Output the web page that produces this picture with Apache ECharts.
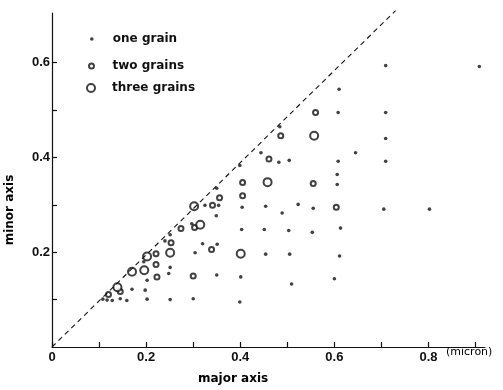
<!DOCTYPE html>
<html>
<head>
<meta charset="utf-8">
<script src="https://cdn.jsdelivr.net/npm/echarts@6/dist/echarts.min.js"></script>
<style>
  html, body { margin: 0; padding: 0; background: #fff; }
  #chart { width: 503px; height: 390px; }
</style>
</head>
<body>
<div id="chart"></div>
<script>
// [major axis, minor axis] in micron
const oneGrain = [
  [0.325, 0.299], [0.297, 0.260], [0.251, 0.237], [0.240, 0.224], [0.320, 0.218],
  [0.304, 0.199], [0.195, 0.180], [0.251, 0.168], [0.248, 0.155], [0.202, 0.141],
  [0.170, 0.122], [0.198, 0.120], [0.108, 0.101], [0.117, 0.099], [0.128, 0.098],
  [0.145, 0.102], [0.159, 0.098], [0.202, 0.101], [0.251, 0.100], [0.300, 0.102],
  [0.444, 0.410], [0.482, 0.390], [0.504, 0.394], [0.399, 0.383], [0.350, 0.335],
  [0.354, 0.299], [0.404, 0.295], [0.454, 0.297], [0.523, 0.301], [0.489, 0.283],
  [0.349, 0.277], [0.403, 0.248], [0.451, 0.248], [0.503, 0.246], [0.351, 0.217],
  [0.454, 0.196], [0.505, 0.196], [0.350, 0.152], [0.401, 0.148], [0.509, 0.133],
  [0.399, 0.095], [0.709, 0.594], [0.610, 0.544], [0.608, 0.495], [0.709, 0.495],
  [0.709, 0.440], [0.645, 0.410], [0.608, 0.392], [0.709, 0.392], [0.606, 0.364],
  [0.606, 0.343], [0.555, 0.293], [0.705, 0.291], [0.553, 0.242], [0.613, 0.251],
  [0.611, 0.192], [0.600, 0.144], [0.908, 0.592], [0.802, 0.291], [0.484, 0.465]
];
const twoGrains = [
  [0.303, 0.252], [0.274, 0.250], [0.253, 0.220], [0.221, 0.197], [0.221, 0.174],
  [0.223, 0.148], [0.300, 0.150], [0.145, 0.117], [0.120, 0.111], [0.461, 0.397],
  [0.405, 0.347], [0.356, 0.315], [0.405, 0.319], [0.341, 0.299], [0.339, 0.206],
  [0.560, 0.495], [0.486, 0.446], [0.555, 0.345], [0.604, 0.295]
];
const threeGrains = [
  [0.302, 0.297], [0.315, 0.258], [0.251, 0.199], [0.202, 0.191], [0.196, 0.162],
  [0.170, 0.159], [0.139, 0.126], [0.458, 0.348], [0.401, 0.197], [0.557, 0.446]
];
// dashed guide line (drawn as in the figure, ends near the top of the axis)
const diagonal = [[0, 0], [0.73, 0.71]];

const xTicks = [0, 0.1, 0.2, 0.3, 0.4, 0.5, 0.6, 0.7, 0.8, 0.9];
const xLabels = [0, 0.2, 0.4, 0.6, 0.8];
const yTicks = [0.1, 0.2, 0.3, 0.4, 0.5, 0.6];
const yLabels = [0.2, 0.4, 0.6];

const chart = echarts.init(document.getElementById('chart'));

const labelFont = {
  fontFamily: 'Liberation Sans',
  fontWeight: 'bold',
  fontSize: 13,
  color: '#111'
};
const textFont = {
  fontFamily: 'DejaVu Sans',
  fontWeight: 'bold',
  fontSize: 12,
  color: '#111'
};

const legendBase = {
  orient: 'vertical',
  left: 85,
  itemWidth: 32,
  selectedMode: false,
  textStyle: textFont
};

const option = {
  backgroundColor: '#fff',
  animation: false,
  grid: { left: 52, right: 18, top: 13, bottom: 43 },
  legend: [
    Object.assign({}, legendBase, { data: ['one grain'], top: 28, itemHeight: 3.6 }),
    Object.assign({}, legendBase, { data: ['two grains'], top: 55, itemHeight: 5, left: 83 }),
    Object.assign({}, legendBase, { data: ['three grains'], top: 77, itemHeight: 8, left: 81 })
  ],
  xAxis: {
    type: 'value',
    min: 0,
    max: 0.92,
    axisLine: { lineStyle: { color: '#111', width: 1.2 } },
    axisTick: {
      inside: true,
      length: 5,
      customValues: xTicks,
      lineStyle: { color: '#111', width: 1.2 }
    },
    axisLabel: Object.assign({ customValues: xLabels, margin: 4 }, labelFont),
    splitLine: { show: false }
  },
  yAxis: {
    type: 'value',
    min: 0,
    max: 0.705,
    axisLine: { lineStyle: { color: '#111', width: 1.2 } },
    axisTick: {
      inside: true,
      length: 5,
      customValues: yTicks,
      lineStyle: { color: '#111', width: 1.2 }
    },
    axisLabel: Object.assign({ customValues: yLabels, margin: 2 }, labelFont),
    splitLine: { show: false }
  },
  graphic: [
    {
      type: 'text',
      left: 198,
      top: 373,
      style: Object.assign({ text: 'major axis' }, textFont)
    },
    {
      type: 'text',
      left: 446,
      top: 347,
      style: Object.assign({ text: '(micron)' }, textFont, { fontSize: 11, fontWeight: 'normal' })
    },
    {
      type: 'text',
      x: 10,
      y: 210,
      rotation: Math.PI / 2,
      style: Object.assign({ text: 'minor axis', align: 'center', verticalAlign: 'middle' }, textFont)
    }
  ],
  series: [
    {
      type: 'line',
      data: diagonal,
      symbol: 'none',
      silent: true,
      clip: false,
      lineStyle: { color: '#111', width: 1.1, type: [5, 4] }
    },
    {
      name: 'one grain',
      type: 'scatter',
      data: oneGrain,
      symbol: 'circle',
      symbolSize: 3.6,
      itemStyle: { color: '#111' }
    },
    {
      name: 'two grains',
      type: 'scatter',
      data: twoGrains,
      symbol: 'emptyCircle',
      symbolSize: 5,
      itemStyle: { color: '#111', borderColor: '#111', borderWidth: 1.3 }
    },
    {
      name: 'three grains',
      type: 'scatter',
      data: threeGrains,
      symbol: 'emptyCircle',
      symbolSize: 8,
      itemStyle: { color: '#111', borderColor: '#111', borderWidth: 1.3 }
    }
  ]
};

chart.setOption(option);
</script>
</body>
</html>
